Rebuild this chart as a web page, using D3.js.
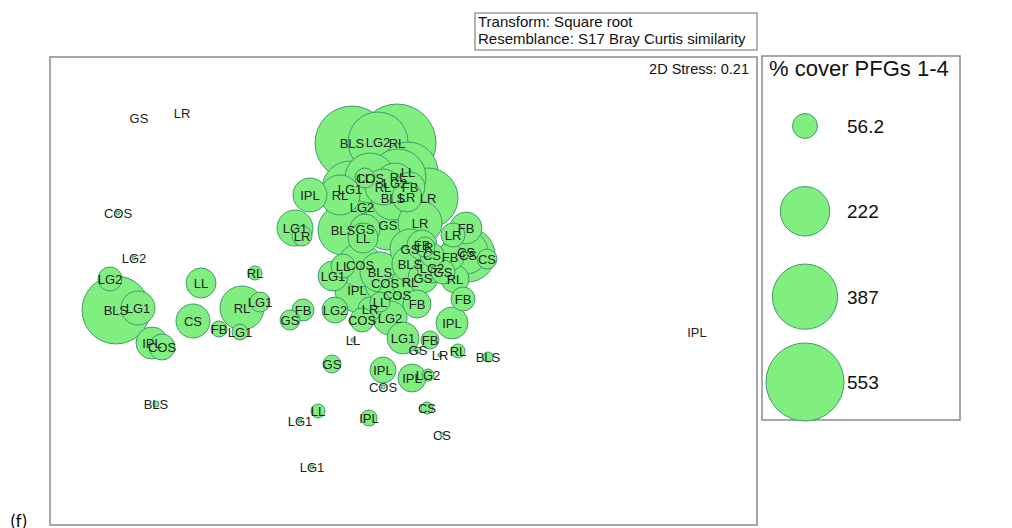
<!DOCTYPE html>
<html>
<head>
<meta charset="utf-8">
<script src="https://cdn.jsdelivr.net/npm/d3@7"></script>
<style>
  html, body { margin: 0; padding: 0; background: #fff; }
  svg { display: block; font-family: Arial, "Liberation Sans", sans-serif; }
</style>
</head>
<body>
<svg id="chart" width="1012" height="528"></svg>
<script>
// nMDS ordination of plots, bubbles sized by % cover of PFGs 1-4
const labels = [
  "GS","LR","COS","LG2","LG2","BLS","LG1","IPL","COS","LL",
  "CS","FB","LG1","RL","LG1","RL","GS","FB","BLS","IPL",
  "LL","LG1","LG1","IPL","GS","IPL","COS","IPL","LG2","CS",
  "CS","LL","LG1","FB","GS","LR","RL","BLS","IPL","FB",
  "LG2","LR","LL","COS","LG2","COS","FB","COS","RL","IPL",
  "LG1","LL","COS","BLS","GS","BLS","LG2","GS","RL","GS",
  "FB","LR","CS","FB","CS","CS","CS","LR","FB","BLS",
  "LG2","RL","COS","LL","RL","LL","LG2","FB","RL","BLS",
  "LR","LR","IPL","RL","LG1","LG2","BLS","GS","LL","GS",
  "LR","LG1","LR"
];
const mds1 = [
  -1.305,-1.09,-1.41,-1.33,-1.45,-1.42,-1.31,-1.24,-1.19,-0.995,
  -1.035,-0.905,-0.8,-0.79,-0.7,-0.725,-0.55,-0.485,-1.22,1.485,
  -0.41,-0.5,-0.44,-0.155,-0.34,-0.085,-0.085,0.06,0.14,0.135,
  0.21,-0.235,0.015,0.15,0.09,0.2,0.29,0.44,0.26,0.315,
  -0.325,-0.15,-0.1,-0.19,-0.05,-0.015,0.085,-0.075,0.05,-0.215,
  -0.335,-0.285,-0.2,-0.1,0.115,0.05,0.16,0.215,0.275,0.05,
  0.11,0.125,0.16,0.25,0.33,0.34,0.435,0.265,0.33,-0.24,
  -0.11,-0.015,-0.15,-0.175,-0.01,0.04,-0.025,0.05,-0.085,-0.035,
  0.035,0.14,-0.45,-0.3,-0.25,-0.19,-0.285,-0.175,-0.185,-0.06,
  0.1,-0.525,-0.49
];
const mds2 = [
  0.86,0.885,0.385,0.16,0.055,-0.1,-0.09,-0.265,-0.285,0.035,
  -0.155,-0.195,-0.21,-0.09,-0.06,0.085,-0.15,-0.1,-0.57,-0.21,
  -0.605,-0.655,-0.885,-0.64,-0.37,-0.4,-0.485,-0.44,-0.425,-0.59,
  -0.725,-0.25,-0.24,-0.25,-0.3,-0.325,-0.305,-0.335,-0.165,-0.045,
  -0.1,-0.095,-0.06,-0.15,-0.14,-0.025,-0.07,0.035,0.04,0.0,
  0.07,0.12,0.125,0.09,0.06,0.13,0.11,0.09,0.055,0.205,
  0.225,0.215,0.175,0.165,0.19,0.175,0.155,0.275,0.31,0.735,
  0.74,0.735,0.56,0.56,0.565,0.59,0.535,0.515,0.515,0.46,
  0.465,0.46,0.475,0.475,0.505,0.415,0.3,0.305,0.26,0.325,
  0.335,0.31,0.27
];
const cover = [
  0,0,1.5,1.5,52.3,419.5,104.9,92.9,61.3,81.7,
  104.9,23.2,23.2,175.6,36.3,17.8,36.3,43.9,3.3,0,
  17.8,1.5,1.5,23.2,29.4,61.3,1.5,71.1,13.1,13.1,
  1.5,1.5,92.9,29.4,3.3,1.5,17.8,9.1,92.9,52.3,
  61.3,52.3,36.3,52.3,104.9,117.6,71.1,145.2,117.6,175.6,
  81.7,52.3,175.6,145.2,81.7,117.6,81.7,52.3,71.1,145.2,
  81.7,36.3,52.3,71.1,175.6,264.6,36.3,52.3,92.9,496.8,
  326.6,552,226.8,36.3,284.5,326.6,145.2,81.7,117.6,175.6,
  81.7,326.6,104.9,145.2,284.5,470.3,226.8,81.7,81.7,226.8,
  175.6,117.6,36.3
];
const legendValues = [56.2, 222, 387, 553];
const legendLabels = ["56.2", "222", "387", "553"];
const headerLines = ["Transform: Square root", "Resemblance: S17 Bray Curtis similarity"];
const stressText = "2D Stress: 0.21";
const legendTitle = "% cover PFGs 1-4";
const panelTag = "(f)";

const fillColor = "#80ef80";
const strokeColor = "#3f9a6c";
const frameColor = "#8a8a8a";

const svg = d3.select("#chart");

const plot = { x0: 50, x1: 757, y0: 57, y1: 525 };
const x = d3.scaleLinear().domain([-1.75, 1.785]).range([plot.x0, plot.x1]);
const y = d3.scaleLinear().domain([1.165, -1.175]).range([plot.y0, plot.y1]);
const r = d3.scaleSqrt().domain([0, 553]).range([0, 39]);

const points = labels.map((lab, i) => ({ lab, m1: mds1[i], m2: mds2[i], v: cover[i] }));

// header box
svg.append("rect").attr("x", 475).attr("y", 13).attr("width", 282).attr("height", 37)
  .attr("fill", "none").attr("stroke", frameColor).attr("stroke-width", 1.3);
svg.selectAll("text.head").data(headerLines).join("text")
  .attr("class", "head")
  .attr("x", 478).attr("y", (d, i) => 27 + i * 17)
  .attr("font-size", 15).attr("fill", "#111").text(d => d);

// plot frame
svg.append("rect").attr("x", plot.x0).attr("y", plot.y0)
  .attr("width", plot.x1 - plot.x0).attr("height", plot.y1 - plot.y0)
  .attr("fill", "none").attr("stroke", frameColor).attr("stroke-width", 1.5);

svg.append("text").attr("x", 749).attr("y", 74).attr("text-anchor", "end")
  .attr("font-size", 14.5).attr("fill", "#111").text(stressText);

// bubbles: larger first so smaller ones stay visible
const bubbleLayer = svg.append("g");
bubbleLayer.selectAll("circle")
  .data(points.filter(d => d.v > 0).sort((a, b) => b.v - a.v))
  .join("circle")
  .attr("cx", d => x(d.m1)).attr("cy", d => y(d.m2)).attr("r", d => r(d.v))
  .attr("fill", fillColor).attr("stroke", strokeColor).attr("stroke-width", 1);

// point labels on top of all bubbles
svg.append("g").selectAll("text")
  .data(points).join("text")
  .attr("x", d => x(d.m1)).attr("y", d => y(d.m2))
  .attr("text-anchor", "middle").attr("dy", "0.36em")
  .attr("font-size", 13).attr("fill", "#222")
  .text(d => d.lab);

// legend
const lg = { x0: 762, y0: 56, x1: 960, y1: 420 };
svg.append("rect").attr("x", lg.x0).attr("y", lg.y0)
  .attr("width", lg.x1 - lg.x0).attr("height", lg.y1 - lg.y0)
  .attr("fill", "none").attr("stroke", frameColor).attr("stroke-width", 1.5);
svg.append("text").attr("x", 769).attr("y", 76).attr("font-size", 22)
  .attr("fill", "#111").text(legendTitle);

const ly = d3.scalePoint().domain(legendLabels).range([126, 382]);
const legendItems = svg.append("g").selectAll("g")
  .data(legendValues.map((v, i) => ({ v, lab: legendLabels[i] })))
  .join("g");
legendItems.append("circle")
  .attr("cx", 805).attr("cy", d => ly(d.lab)).attr("r", d => r(d.v))
  .attr("fill", fillColor).attr("stroke", strokeColor).attr("stroke-width", 1);
legendItems.append("text")
  .attr("x", 847).attr("y", d => ly(d.lab)).attr("dy", "0.36em")
  .attr("font-size", 19).attr("fill", "#111").text(d => d.lab);

svg.append("text").attr("x", 10).attr("y", 527)
  .attr("font-family", "Carlito, 'Liberation Sans', Arial, sans-serif")
  .attr("font-size", 19).attr("fill", "#111").text(panelTag);
</script>
</body>
</html>
